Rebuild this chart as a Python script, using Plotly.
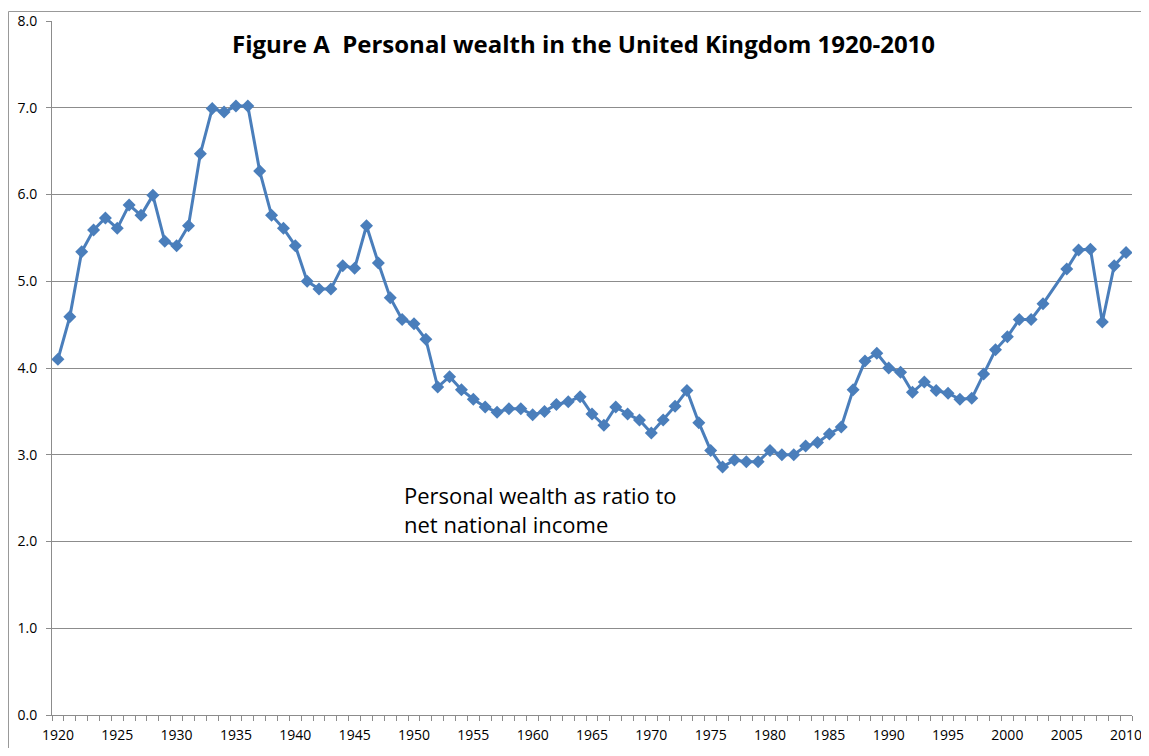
import plotly.graph_objects as go

years = [y for y in range(1920, 2011) if y != 2004]
wealth_ratio = [
    4.10, 4.59, 5.34, 5.59, 5.73, 5.61, 5.88, 5.76, 5.99, 5.46,   # 1920-1929
    5.41, 5.64, 6.47, 6.99, 6.95, 7.02, 7.02, 6.27, 5.76, 5.61,   # 1930-1939
    5.41, 5.00, 4.91, 4.91, 5.18, 5.15, 5.64, 5.21, 4.81, 4.56,   # 1940-1949
    4.51, 4.33, 3.78, 3.90, 3.75, 3.64, 3.55, 3.49, 3.53, 3.53,   # 1950-1959
    3.46, 3.50, 3.58, 3.61, 3.67, 3.47, 3.34, 3.55, 3.47, 3.40,   # 1960-1969
    3.25, 3.40, 3.56, 3.74, 3.37, 3.05, 2.86, 2.94, 2.92, 2.92,   # 1970-1979
    3.05, 3.00, 3.00, 3.10, 3.14, 3.24, 3.32, 3.75, 4.08, 4.17,   # 1980-1989
    4.00, 3.95, 3.72, 3.84, 3.74, 3.71, 3.64, 3.65, 3.93, 4.21,   # 1990-1999
    4.36, 4.56, 4.56, 4.74,                                       # 2000-2003
    5.14, 5.36, 5.37, 4.53, 5.18, 5.33,                           # 2005-2010
]
tick_years = list(range(1920, 2011, 5))
y_ticks = [0, 1, 2, 3, 4, 5, 6, 7, 8]

title_text = "Figure A  Personal wealth in the United Kingdom 1920-2010"
note_text = "Personal wealth as ratio to<br>net national income"

font_family = "'Open Sans', Lato, sans-serif"
grid_col = "#8c8c8c"
line_col = "#4a7ebb"

fig = go.Figure()
fig.add_trace(go.Scatter(
    x=years, y=wealth_ratio, mode="lines+markers",
    line=dict(color=line_col, width=3),
    marker=dict(symbol="diamond", size=10, color=line_col),
    showlegend=False, hoverinfo="x+y",
))

fig.update_layout(
    width=1133, height=740,
    margin=dict(l=44, r=9, t=13, b=33, autoexpand=False),
    paper_bgcolor="white", plot_bgcolor="white",
    font=dict(family=font_family, size=14, color="#000000"),
    xaxis=dict(
        range=[1919.5, 2010.5], tickmode="array", tickvals=tick_years,
        ticktext=[str(t) for t in tick_years], ticks="", showgrid=False,
        showline=True, linecolor=grid_col, linewidth=1, zeroline=False,
        automargin=False, ticklabelstandoff=7, ticklabeloverflow="allow",
        tickfont=dict(size=14, family=font_family),
        minor=dict(ticks="outside", tick0=1919.5, dtick=1, ticklen=5,
                   tickcolor=grid_col, tickwidth=1, showgrid=False),
    ),
    yaxis=dict(
        range=[0, 8], tickmode="array", tickvals=y_ticks,
        ticktext=[f"{v:.1f}" for v in y_ticks], ticks="outside", ticklen=5,
        tickcolor=grid_col, showgrid=True, gridcolor=grid_col, gridwidth=1,
        showline=True, linecolor=grid_col, linewidth=1, zeroline=False,
        automargin=False, ticklabelstandoff=6, ticklabeloverflow="allow",
        tickfont=dict(size=14, family=font_family),
    ),
    shapes=[dict(type="rect", xref="paper", yref="paper",
                 x0=(8.5 - 52) / 1080, x1=(1160 - 52) / 1080,
                 y0=-0.2, y1=(715 - 11.5) / 694,
                 line=dict(color="#999999", width=1), layer="below")],
    annotations=[
        dict(text="<b>" + title_text + "</b>", xref="paper", yref="paper",
             x=(583 - 52) / 1080, y=(715 - 43) / 694, xanchor="center", yanchor="middle",
             showarrow=False, font=dict(size=24, family=font_family, color="#000000")),
        dict(text=note_text, xref="x", yref="y", x=1949.0, y=2.37,
             xanchor="left", yanchor="middle", align="left", showarrow=False,
             font=dict(size=22, family=font_family, color="#000000")),
    ],
)

fig.write_html("out.html")
